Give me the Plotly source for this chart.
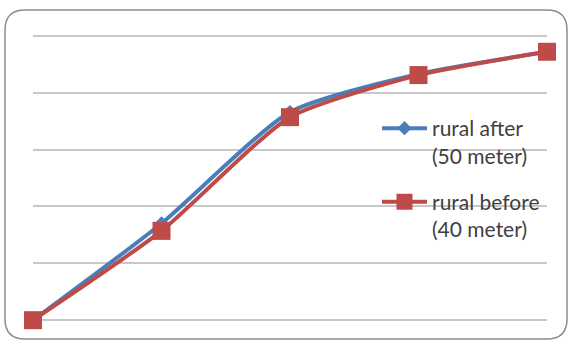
import plotly.graph_objects as go

# Five measurement steps along a category axis
steps = ["1", "2", "3", "4", "5"]
rural_after_50m = [0.0, 1.70, 3.66, 4.33, 4.72]
rural_before_40m = [0.0, 1.57, 3.57, 4.31, 4.72]

W, H = 570, 344
L, R, T, B = 33, 23, 33, 21
pw, ph = W - L - R, H - T - B


def px_to_paper(x, y):
    return (x - L) / pw, (H - B - y) / ph


# Rounded frame around the whole chart, built in pixels then mapped to paper coords
x0, y0, x1, y1, r = 5, 10, 567, 339, 20


def P(x, y):
    px, py = px_to_paper(x, y)
    return f"{px:.5f},{py:.5f}"


frame = (
    f"M {P(x0 + r, y0)} L {P(x1 - r, y0)} Q {P(x1, y0)} {P(x1, y0 + r)} "
    f"L {P(x1, y1 - r)} Q {P(x1, y1)} {P(x1 - r, y1)} "
    f"L {P(x0 + r, y1)} Q {P(x0, y1)} {P(x0, y1 - r)} "
    f"L {P(x0, y0 + r)} Q {P(x0, y0)} {P(x0 + r, y0)} Z"
)

blue = "#4A7EBB"
red = "#BE4B48"

fig = go.Figure()
fig.add_trace(go.Scatter(
    x=steps, y=rural_after_50m, mode="lines+markers",
    name="rural after<br>(50 meter)", legendgroup="after", cliponaxis=False,
    line=dict(color=blue, width=4, shape="spline", smoothing=0.6),
    marker=dict(symbol="diamond", size=11, color=blue),
))
fig.add_trace(go.Scatter(
    x=steps, y=rural_before_40m, mode="lines+markers",
    name="rural before<br>(40 meter)", legendgroup="before", cliponaxis=False,
    line=dict(color=red, width=4, shape="spline", smoothing=0.6),
    marker=dict(symbol="square", size=18, color=red),
))

lx, ly = px_to_paper(377, 108)
fig.update_layout(
    width=W, height=H,
    margin=dict(l=L, r=R, t=T, b=B),
    paper_bgcolor="white", plot_bgcolor="white",
    font=dict(family="Lato, Open Sans, sans-serif", size=21, color="#404040"),
    showlegend=True,
    legend=dict(
        x=lx, y=ly, xanchor="left", yanchor="top",
        bgcolor="rgba(0,0,0,0)", valign="top",
        tracegroupgap=16, itemwidth=45,
        font=dict(size=21, color="#404040"),
    ),
    xaxis=dict(
        type="category", range=[0, 4], showgrid=False, zeroline=False,
        showticklabels=False, showline=False, ticks="",
    ),
    yaxis=dict(
        range=[-0.05, 5.05], tick0=0, dtick=1, showgrid=True,
        gridcolor="#C8C8C8", gridwidth=1.5,
        zeroline=False, showticklabels=False, showline=False, ticks="",
    ),
    shapes=[dict(
        type="path", path=frame, xref="paper", yref="paper",
        line=dict(color="#8C8C8C", width=1.5), layer="below",
    )],
)

fig.write_html("out.html")
